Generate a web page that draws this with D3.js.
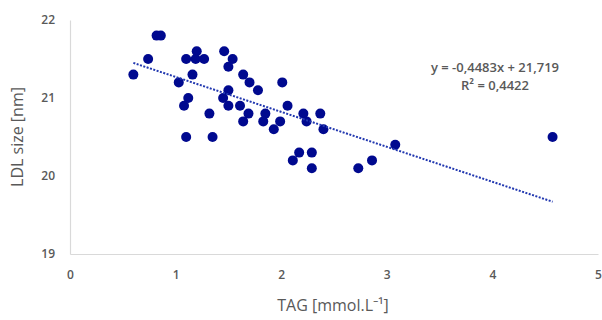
<!DOCTYPE html>
<html>
<head>
<meta charset="utf-8">
<script src="https://cdn.jsdelivr.net/npm/d3@7"></script>
<style>
  body { margin: 0; background: #fff; }
  text { font-family: "Open Sans", "Liberation Sans", sans-serif; fill: #595959; }
</style>
</head>
<body>
<div id="chart"></div>
<script>
// TAG [mmol/L] vs LDL size [nm]
const tag = [0.60, 0.74, 0.82, 0.86, 1.03, 1.10, 1.20, 1.27, 1.19, 1.16, 1.12, 1.08, 1.32, 1.10, 1.35,
             1.46, 1.54, 1.50, 1.64, 1.70, 1.78, 2.01, 1.50, 1.45, 1.50, 1.61, 1.69, 2.06, 1.64, 1.85,
             1.83, 1.99, 1.93, 2.21, 2.24, 2.37, 2.40, 2.17, 2.11, 2.29, 2.29, 2.73, 2.86, 3.08, 4.57];
const ldl = [21.3, 21.5, 21.8, 21.8, 21.2, 21.5, 21.6, 21.5, 21.5, 21.3, 21.0, 20.9, 20.8, 20.5, 20.5,
             21.6, 21.5, 21.4, 21.3, 21.2, 21.1, 21.2, 21.1, 21.0, 20.9, 20.9, 20.8, 20.9, 20.7, 20.8,
             20.7, 20.7, 20.6, 20.8, 20.7, 20.8, 20.6, 20.3, 20.2, 20.3, 20.1, 20.1, 20.2, 20.4, 20.5];

const xTicks = [0, 1, 2, 3, 4, 5];
const yTicks = [19, 20, 21, 22];

// trendline as printed on the chart
const slope = -0.4483;
const intercept = 21.719;
const eqLabels = ["y = -0,4483x + 21,719", "R² = 0,4422"];

const canvas = { w: 602, h: 320 };
const margin = { left: 70, right: 4, top: 20, bottom: 66 };

const svg = d3.select("#chart").append("svg")
    .attr("width", canvas.w)
    .attr("height", canvas.h);

const x = d3.scaleLinear().domain([0, 5]).range([margin.left, canvas.w - margin.right]);
const y = d3.scaleLinear().domain([19, 22]).range([canvas.h - margin.bottom, margin.top]);

const xAxis = svg.append("g")
    .attr("transform", `translate(0,${y(19)})`)
    .call(d3.axisBottom(x).tickValues(xTicks).tickSize(0).tickPadding(16).tickFormat(d3.format("d")));
const yAxis = svg.append("g")
    .attr("transform", `translate(${x(0)},0)`)
    .call(d3.axisLeft(y).tickValues(yTicks).tickSize(0).tickPadding(15).tickFormat(d3.format("d")));

[xAxis, yAxis].forEach(a => {
    a.select(".domain").attr("stroke", "#d9d9d9").attr("stroke-width", 1.2);
    a.selectAll("text").attr("font-size", 12).attr("fill", "#505050")
        .attr("font-weight", 600)
        .style("font-family", "'Open Sans', sans-serif");
});

// axis titles
svg.append("text")
    .attr("x", 333).attr("y", 311)
    .attr("text-anchor", "middle")
    .attr("font-size", 16)
    .text("TAG [mmol.L⁻¹]");
svg.append("text")
    .attr("transform", `translate(23,${(y(19) + y(22)) / 2}) rotate(-90)`)
    .attr("text-anchor", "middle")
    .attr("font-size", 16)
    .text("LDL size [nm]");

const pts = tag.map((t, i) => ({ t, l: ldl[i] }));

svg.append("g").selectAll("circle")
    .data(pts)
    .join("circle")
    .attr("cx", d => x(d.t))
    .attr("cy", d => y(d.l))
    .attr("r", 5)
    .attr("fill", "#00098f");

// linear trendline over the data extent
const [t0, t1] = d3.extent(tag);
svg.append("line")
    .attr("x1", x(t0)).attr("y1", y(slope * t0 + intercept))
    .attr("x2", x(t1)).attr("y2", y(slope * t1 + intercept))
    .attr("stroke", "#2238b0")
    .attr("stroke-width", 2)
    .attr("stroke-dasharray", "2,1.5");

svg.append("g").selectAll("text")
    .data(eqLabels)
    .join("text")
    .attr("x", 495)
    .attr("y", (d, i) => 72 + i * 18)
    .attr("text-anchor", "middle")
    .attr("font-size", 13)
    .attr("font-weight", 600)
    .attr("fill", "#404040")
    .text(d => d);
</script>
</body>
</html>
